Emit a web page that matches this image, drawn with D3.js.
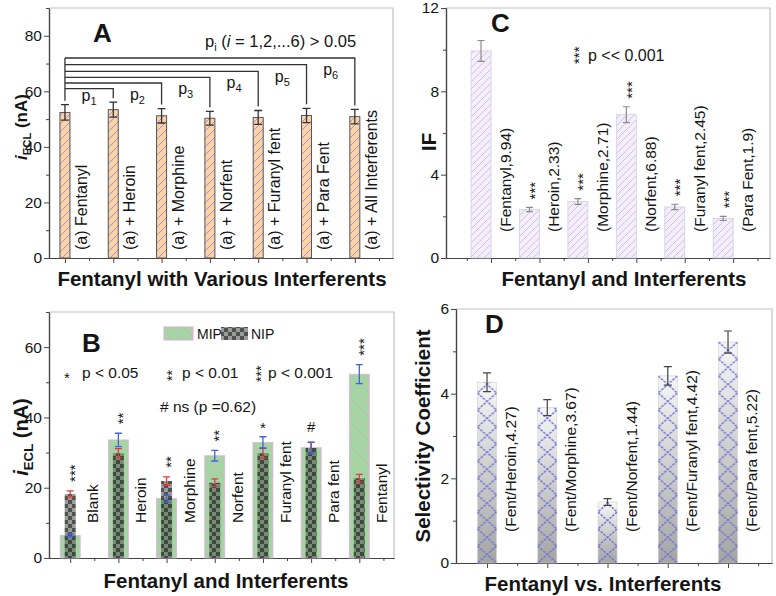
<!DOCTYPE html>
<html><head><meta charset="utf-8">
<script src="https://cdn.jsdelivr.net/npm/d3@7"></script>
<style>body{margin:0;background:#fff} svg{display:block} text{font-family:"Liberation Sans",Arial,sans-serif;fill:#151515}</style>
</head><body><svg id="c" width="776" height="596"></svg>
<script>
// ---------- Panel A ----------
const catA = ["(a) Fentanyl","(a) + Heroin","(a) + Morphine","(a) + Norfent","(a) + Furanyl fent","(a) + Para Fent","(a) + All Interferents"];
const valA = [52.4,53.4,51.2,50.3,50.6,51.3,50.9];
const errA = [2.8,2.7,2.6,2.5,2.5,2.6,2.6];
const bracketA = [61,63,65,67.2,69.6,72];
const tickA = [0,20,40,60,80];
const minorA = [10,30,50,70,90];
// ---------- Panel B ----------
const catB = ["Blank","Heroin","Morphine","Norfent","Furanyl fent","Para fent","Fentanyl"];
const mipB = [6.4,33.6,16.9,29.1,32.9,31.4,52.3];
const mipErrB = [0.4,1.9,1.0,1.5,1.6,1.6,2.7];
const nipB = [18.2,29.8,21.9,21.4,29.8,31.3,22.7];
const nipErrB = [0.9,1.3,1.2,1.1,1.4,1.6,1.1];
const sigB = ["***","**","**","**","*","#","***"];
const tickB = [0,20,40,60];
const minorB = [10,30,50,70];
// ---------- Panel C ----------
const catC = ["Fentanyl","Heroin","Morphine","Norfent","Furanyl fent","Para Fent"];
const valC = [9.94,2.33,2.71,6.88,2.45,1.9];
const errC = [0.5,0.1,0.14,0.38,0.13,0.1];
const sigC = ["","***","***","***","***","***"];
const tickC = [0,4,8,12];
const minorC = [2,6,10];
// ---------- Panel D ----------
const catD = ["Fent/Heroin","Fent/Morphine","Fent/Norfent","Fent/Furanyl fent","Fent/Para fent"];
const valD = [4.27,3.67,1.44,4.42,5.22];
const errD = [0.22,0.19,0.08,0.22,0.26];
const tickD = [0,2,4,6];
const minorD = [1,3,5];

const svg = d3.select("#c");
const defs = svg.append("defs");

function hatch(id, bg, line, size, dir, sw) {
  const p = defs.append("pattern").attr("id", id).attr("patternUnits", "userSpaceOnUse")
    .attr("width", size).attr("height", size);
  p.append("rect").attr("width", size).attr("height", size).attr("fill", bg);
  const s = size, h = size / 2;
  const d = dir > 0
    ? `M0,${s}L${s},0M${-h},${h}L${h},${-h}M${h},${s + h}L${s + h},${h}`
    : `M0,0L${s},${s}M${-h},${h}L${h},${s + h}M${h},${-h}L${s + h},${h}`;
  p.append("path").attr("d", d).attr("stroke", line).attr("stroke-width", sw);
}
hatch("hA", "#fdd3a6", "#8c84e6", 8, 1, 0.8);
hatch("hC", "#eef0fb", "#f2a2d4", 7, 1, 0.8);
hatch("hB", "#a3d6a0", "#d9a3d8", 12, -1, 0.8);
const ck = defs.append("pattern").attr("id", "ckB").attr("patternUnits", "userSpaceOnUse").attr("width", 8).attr("height", 8);
[[0,0,"rgba(35,40,35,0.8)"],[4,4,"rgba(35,40,35,0.8)"],[4,0,"rgba(85,90,85,0.6)"],[0,4,"rgba(85,90,85,0.6)"]]
  .forEach(([a,b,c]) => ck.append("rect").attr("x",a).attr("y",b).attr("width",4).attr("height",4).attr("fill",c));
const gr = defs.append("linearGradient").attr("id","gD").attr("x1",0).attr("y1",0).attr("x2",0).attr("y2",1);
gr.append("stop").attr("offset","0%").attr("stop-color","#f6f6f6");
gr.append("stop").attr("offset","100%").attr("stop-color","#a4a4a4");

function makePanel(o) {
  const g = svg.append("g");
  const x = d3.scaleLinear().domain(o.xd).range([o.x0, o.x1]);
  const y = d3.scaleLinear().domain(o.yd).range([o.yb, o.yt]);
  g.append("path").attr("d", `M${o.x0},${o.yt}H${o.x1}V${o.yb}`).attr("fill", "none")
    .attr("stroke", "#c2c2c2").attr("stroke-width", 1.2);
  g.append("g").attr("transform", `translate(${o.x0},0)`)
    .call(d3.axisLeft(y).tickValues(o.yMinor).tickSize(3).tickFormat("").tickSizeOuter(0));
  g.append("g").attr("transform", `translate(${o.x0},0)`)
    .call(d3.axisLeft(y).tickValues(o.yTicks).tickSize(5).tickPadding(2).tickSizeOuter(0).tickFormat(d3.format("d")));
  const xMinor = d3.range(o.n + 1).map(i => i - 0.5).filter(v => x(v) > o.x0 + 1 && x(v) < o.x1 - 1);
  g.append("g").attr("transform", `translate(0,${o.yb})`)
    .call(d3.axisBottom(x).tickValues(xMinor).tickSize(3).tickFormat("").tickSizeOuter(0));
  g.append("g").attr("transform", `translate(0,${o.yb})`)
    .call(d3.axisBottom(x).tickValues(d3.range(o.n)).tickSize(5).tickFormat("").tickSizeOuter(0));
  g.selectAll(".domain").attr("stroke", "#444").attr("stroke-width", 1.2);
  g.selectAll(".tick line").attr("stroke", "#444");
  g.selectAll(".tick text").attr("font-size", 15.5).attr("fill", "#222")
    .attr("font-family", '"Liberation Sans",Arial,sans-serif');
  return { g, x, y, o };
}

function errBars(P, vals, errs, cxf, cap, color, sw) {
  const g = P.g.append("g").attr("stroke", color).attr("stroke-width", sw).attr("fill", "none");
  vals.forEach((v, i) => {
    const cx = cxf(i), t = P.y(v + errs[i]), b = P.y(v - errs[i]);
    g.append("path").attr("d", `M${cx},${t}V${b}M${cx - cap / 2},${t}H${cx + cap / 2}M${cx - cap / 2},${b}H${cx + cap / 2}`);
  });
}
function vtext(g, x, y, txt, size, anchor, weight) {
  return g.append("text").attr("transform", `translate(${x},${y}) rotate(-90)`)
    .attr("text-anchor", anchor || "start").attr("font-size", size)
    .attr("font-weight", weight || "normal").text(txt);
}
function stars(g, x, yBottom, txt, size) {
  return g.append("text").attr("transform", `translate(${x},${yBottom}) rotate(-90)`)
    .attr("font-size", size).attr("dy", "0.56em").text(txt);
}
function title(g, x, y, txt) {
  g.append("text").attr("x", x).attr("y", y).attr("text-anchor", "middle")
    .attr("font-size", 20.5).attr("font-weight", "bold").text(txt);
}
function letter(g, x, y, txt) {
  g.append("text").attr("x", x).attr("y", y).attr("font-size", 26).attr("font-weight", "bold").text(txt);
}
function iecl(g, x, y, size) {
  const t = g.append("text").attr("transform", `translate(${x},${y}) rotate(-90)`)
    .attr("text-anchor", "middle").attr("font-weight", "bold").attr("font-size", size);
  t.append("tspan").attr("font-style", "italic").text("i");
  t.append("tspan").attr("font-size", size * 0.66).attr("dy", size * 0.25).text("ECL");
  t.append("tspan").attr("dy", -size * 0.25).text(" (nA)");
}

// ================= Panel A =================
const A = makePanel({ x0: 49, x1: 393, yt: 8, yb: 258, xd: [-0.33, 6.79], yd: [0, 90], yTicks: tickA, yMinor: minorA, n: 7 });
A.g.append("g").selectAll("rect").data(valA).join("rect")
  .attr("x", (d, i) => A.x(i) - 5).attr("width", 10)
  .attr("y", d => A.y(d)).attr("height", d => A.y(0) - A.y(d))
  .attr("fill", "url(#hA)").attr("stroke", "#555").attr("stroke-width", 1);
errBars(A, valA, errA, i => A.x(i), 8, "#333", 1.3);
{
  const bg = A.g.append("g").attr("stroke", "#333").attr("stroke-width", 1.3).attr("fill", "none");
  const topLevel = d3.max(bracketA);
  bg.append("path").attr("d", `M${A.x(0)},${A.y(topLevel)}V${A.y(valA[0] + errA[0]) - 4}`);
  bracketA.forEach((lv, k) => {
    const i = k + 1;
    bg.append("path").attr("d", `M${A.x(0)},${A.y(lv)}H${A.x(i)}V${A.y(valA[i] + errA[i]) - 4}`);
    const t = A.g.append("text").attr("x", A.x(i - 0.5)).attr("y", A.y(lv) + (k === 0 ? 12 : 17))
      .attr("text-anchor", "middle").attr("font-size", 16);
    t.append("tspan").text("p");
    t.append("tspan").attr("font-size", 11).attr("dy", 4).text(String(i));
  });
}
catA.forEach((c, i) => vtext(A.g, A.x(i) + 22, 250, c, 16));
{
  const t = A.g.append("text").attr("x", 205).attr("y", 47).attr("font-size", 16.5);
  t.append("tspan").text("p");
  t.append("tspan").attr("font-size", 11).attr("dy", 4).text("i");
  t.append("tspan").attr("dy", -4).text(" (");
  t.append("tspan").attr("font-style", "italic").text("i");
  t.append("tspan").text(" = 1,2,...6) > 0.05");
}
letter(A.g, 93, 42, "A");
title(A.g, 222, 286, "Fentanyl with Various Interferents");
iecl(A.g, 27, 127, 17);

// ================= Panel B =================
const B = makePanel({ x0: 49, x1: 394, yt: 312, yb: 558, xd: [-0.44, 6.72], yd: [0, 70], yTicks: tickB, yMinor: minorB, n: 7 });
B.g.append("g").selectAll("rect").data(mipB).join("rect")
  .attr("x", (d, i) => B.x(i) - 10).attr("width", 20)
  .attr("y", d => B.y(d)).attr("height", d => B.y(0) - B.y(d))
  .attr("fill", "url(#hB)").attr("stroke", "#e2b0e2").attr("stroke-width", 0.8);
B.g.append("g").selectAll("rect").data(nipB).join("rect")
  .attr("x", (d, i) => B.x(i) - 5.5).attr("width", 11)
  .attr("y", d => B.y(d)).attr("height", d => B.y(0) - B.y(d))
  .attr("fill", "url(#ckB)");
errBars(B, nipB, nipErrB, i => B.x(i), 7, "#e23a3a", 1.3);
errBars(B, mipB, mipErrB, i => B.x(i), 7, "#3f63e6", 1.3);
sigB.forEach((s, i) => {
  const topv = Math.max(mipB[i] + mipErrB[i], nipB[i] + nipErrB[i]);
  const yb = B.y(topv);
  if (s === "*") {
    B.g.append("text").attr("x", B.x(i)).attr("y", yb - 4).attr("text-anchor", "middle").attr("font-size", 15).text(s);
  } else if (s === "#") {
    B.g.append("text").attr("x", B.x(i)).attr("y", yb - 10).attr("text-anchor", "middle").attr("font-size", 15).text(s);
  } else {
    stars(B.g, B.x(i) + 1, yb - 9, s, 15);
  }
});
catB.forEach((c, i) => vtext(B.g, B.x(i) + 28, 523, c, 15.5));
B.g.append("rect").attr("x", 164).attr("y", 327).attr("width", 29).attr("height", 13)
  .attr("fill", "url(#hB)").attr("stroke", "#e0a8e0").attr("stroke-width", 1);
B.g.append("text").attr("x", 197).attr("y", 339).attr("font-size", 14).text("MIP");
B.g.append("rect").attr("x", 221).attr("y", 327).attr("width", 27).attr("height", 13).attr("fill", "url(#ckB)");
B.g.append("text").attr("x", 251).attr("y", 339).attr("font-size", 14).text("NIP");
B.g.append("text").attr("x", 64).attr("y", 383).attr("font-size", 15).text("*");
B.g.append("text").attr("x", 82).attr("y", 378).attr("font-size", 15.5).text("p < 0.05");
stars(B.g, 169, 381, "**", 14);
B.g.append("text").attr("x", 182).attr("y", 378).attr("font-size", 15.5).text("p < 0.01");
stars(B.g, 258, 382, "***", 14);
B.g.append("text").attr("x", 268).attr("y", 378).attr("font-size", 15.5).text("p < 0.001");
B.g.append("text").attr("x", 160).attr("y", 412).attr("font-size", 15.5).text("# ns (p =0.62)");
letter(B.g, 82, 352, "B");
title(B.g, 226, 588, "Fentanyl and Interferents");
iecl(B.g, 28, 437, 20);

// ================= Panel C =================
const C = makePanel({ x0: 446, x1: 770, yt: 8, yb: 258, xd: [-0.93, 5.76], yd: [0, 12], yTicks: tickC, yMinor: minorC, n: 6 });
C.g.append("g").selectAll("rect").data(valC).join("rect")
  .attr("x", (d, i) => C.x(i) - 20).attr("width", 20)
  .attr("y", d => C.y(d)).attr("height", d => C.y(0) - C.y(d))
  .attr("fill", "url(#hC)").attr("stroke", "#cfd0e6").attr("stroke-width", 0.8);
errBars(C, valC, errC, i => C.x(i) - 10, 7, "#8a8a8a", 1.2);
sigC.forEach((s, i) => { if (s) stars(C.g, C.x(i) - 8, C.y(valC[i] + errC[i]) - 8, s, 15); });
catC.forEach((c, i) => vtext(C.g, C.x(i) + 20, 232, `(${c},${valC[i]})`, 15.5));
stars(C.g, 576, 64, "***", 15);
C.g.append("text").attr("x", 588).attr("y", 61).attr("font-size", 16).text("p << 0.001");
letter(C.g, 491, 32, "C");
title(C.g, 624, 286, "Fentanyl and Interferents");
vtext(C.g, 436, 142, "IF", 21, "middle", "bold");

// ================= Panel D =================
const D = makePanel({ x0: 456, x1: 772, yt: 309, yb: 563, xd: [-0.515, 4.73], yd: [0, 6], yTicks: tickD, yMinor: minorD, n: 5 });
D.g.append("g").selectAll("rect").data(valD).join("rect")
  .attr("x", (d, i) => D.x(i) - 9.5).attr("width", 19)
  .attr("y", d => D.y(d)).attr("height", d => D.y(0) - D.y(d))
  .attr("fill", "url(#gD)").attr("stroke", "#d0d0d0").attr("stroke-width", 0.6);
valD.forEach((v, i) => {
  const bx = D.x(i) - 9.5, pid = "pD" + i;
  const p = defs.append("pattern").attr("id", pid).attr("patternUnits", "userSpaceOnUse")
    .attr("x", bx).attr("y", D.y(0)).attr("width", 19).attr("height", 17);
  p.append("path").attr("d", "M0,0L19,17M19,0L0,17").attr("stroke", "#6f6fd8")
    .attr("stroke-width", 1.4).attr("stroke-dasharray", "2.5,1.2").attr("fill", "none");
  D.g.append("rect").attr("x", bx).attr("width", 19).attr("y", D.y(v)).attr("height", D.y(0) - D.y(v))
    .attr("fill", `url(#${pid})`);
});
errBars(D, valD, errD, i => D.x(i), 8, "#444", 1.2);
catD.forEach((c, i) => vtext(D.g, D.x(i) + 29, 532, `(${c},${valD[i]})`, 15.5));
letter(D.g, 485, 333, "D");
title(D.g, 603, 591, "Fentanyl vs. Interferents");
vtext(D.g, 430, 436, "Selectivity Coefficient", 20.5, "middle", "bold");
</script></body></html>
